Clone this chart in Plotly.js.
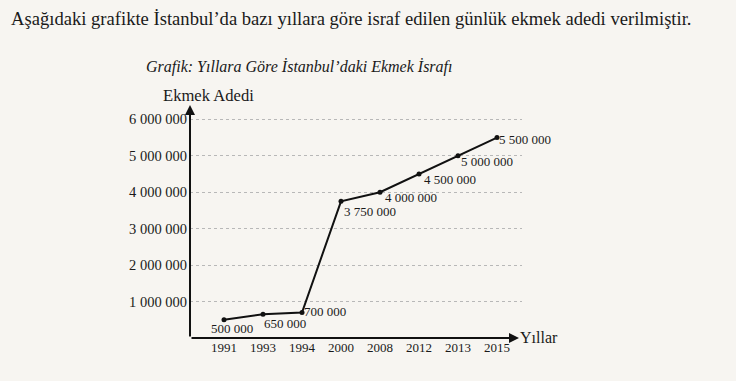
<!DOCTYPE html>
<html>
<head>
<meta charset="utf-8">
<script src="https://cdn.plot.ly/plotly-3.0.1.min.js"></script>
<style>
html,body{margin:0;padding:0;background:#f7f5f1;}
#chart{width:736px;height:381px;}
</style>
</head>
<body>
<div id="chart"></div>
<script>
// ---- data ----
const years = ["1991", "1993", "1994", "2000", "2008", "2012", "2013", "2015"];
const breadCounts = [500000, 650000, 700000, 3750000, 4000000, 4500000, 5000000, 5500000];
const yTickValues = [1000000, 2000000, 3000000, 4000000, 5000000, 6000000];
const yTickLabels = ["1 000 000", "2 000 000", "3 000 000", "4 000 000", "5 000 000", "6 000 000"];

const headline = "Aşağıdaki grafikte İstanbul’da bazı yıllara göre israf edilen günlük ekmek adedi verilmiştir.";
const chartTitle = "Grafik: Yıllara Göre İstanbul’daki Ekmek İsrafı";
const yAxisName = "Ekmek Adedi";
const xAxisName = "Yıllar";

// label offsets in pixels (styling only)
const labelDx = [-15, -1, 0, 1, 3, 3, 1, 0];
const labelDy = [-8.5, -9, 1, -10.5, -5, -6, -5.5, -1.5];

function fmt(v){ return String(v).replace(/\B(?=(\d{3})+(?!\d))/g, " "); }

// ---- layout geometry (pixels) ----
const W = 736, H = 381;
const L = 190, R = 522, T = 105, B = 337.7;
const pxPerMillion = 36.4;
const yMax = (B - T) / pxPerMillion * 1e6;
const catStep = 39;
const firstCat = 224;
const xMin = -(firstCat - L) / catStep;
const xMax = (R - firstCat) / catStep;

const px = x => (x - L) / (R - L);
const py = y => (B - y) / (B - T);

const serif = "Liberation Serif, DejaVu Serif, serif";
const ink = "#1a1a1a";

const trace = {
  type: "scatter",
  mode: "lines+markers",
  x: years,
  y: breadCounts,
  line: {color: "#111", width: 2},
  marker: {color: "#111", size: 5},
  cliponaxis: false,
  hoverinfo: "skip"
};

// category axis: annotation x is the category's serial index
const pointLabels = years.map((yr, i) => ({
  xref: "x", yref: "y", x: years.indexOf(yr), y: breadCounts[i],
  text: fmt(breadCounts[i]), showarrow: false,
  xanchor: "left", yanchor: "middle",
  xshift: labelDx[i], yshift: labelDy[i],
  font: {family: serif, size: 13, color: ink}
}));

const layout = {
  width: W, height: H,
  margin: {l: L, r: W - R, t: T, b: H - B},
  paper_bgcolor: "#f7f5f1",
  plot_bgcolor: "rgba(0,0,0,0)",
  showlegend: false,
  font: {family: serif, color: ink},
  xaxis: {
    type: "category",
    range: [xMin, xMax],
    showgrid: false,
    zeroline: false,
    showline: false,
    ticks: "",
    tickfont: {family: serif, size: 13, color: ink},
    fixedrange: true
  },
  yaxis: {
    range: [0, yMax],
    tickvals: yTickValues,
    ticktext: yTickLabels,
    showgrid: true,
    gridcolor: "#b8b8b8",
    griddash: "dot",
    gridwidth: 1,
    zeroline: false,
    showline: false,
    ticks: "",
    ticklabelstandoff: 2,
    tickfont: {family: serif, size: 14.5, color: ink},
    fixedrange: true
  },
  annotations: [
    {xref: "paper", yref: "paper", x: px(9), y: py(19), xanchor: "left", yanchor: "middle",
     text: headline, showarrow: false, font: {family: serif, size: 18.6, color: ink}},
    {xref: "paper", yref: "paper", x: px(144), y: py(67), xanchor: "left", yanchor: "middle",
     text: "<i>" + chartTitle + "</i>", showarrow: false, font: {family: serif, size: 16, color: ink}},
    {xref: "paper", yref: "paper", x: px(161), y: py(96), xanchor: "left", yanchor: "middle",
     text: yAxisName, showarrow: false, font: {family: serif, size: 16.6, color: ink}},
    {xref: "paper", yref: "paper", x: px(518), y: py(337.5), xanchor: "left", yanchor: "middle",
     text: xAxisName, showarrow: false, font: {family: serif, size: 16, color: ink}},
    // y axis arrow
    {xref: "paper", yref: "paper", axref: "paper", ayref: "paper",
     x: 0, y: 1, ax: 0, ay: 0, text: "", showarrow: true,
     arrowhead: 2, arrowsize: 1, arrowwidth: 2, arrowcolor: "#111", standoff: 0, startstandoff: 0},
    // x axis arrow
    {xref: "paper", yref: "paper", axref: "paper", ayref: "paper",
     x: px(519), y: 0, ax: 0, ay: 0, text: "", showarrow: true,
     arrowhead: 2, arrowsize: 1, arrowwidth: 2, arrowcolor: "#111", standoff: 0, startstandoff: 0}
  ].concat(pointLabels)
};

Plotly.newPlot("chart", [trace], layout, {staticPlot: true, displayModeBar: false});
</script>
</body>
</html>
